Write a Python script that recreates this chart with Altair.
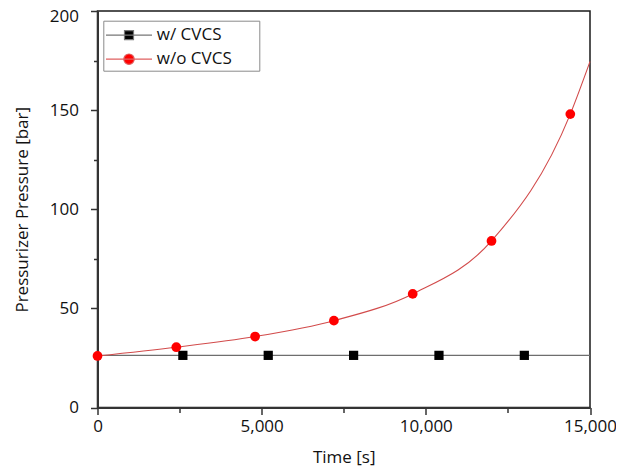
import altair as alt
import pandas as pd

# --- data ---
series_names = ["w/ CVCS", "w/o CVCS"]

# red (w/o CVCS) curve: marker readings plus the end of the drawn line at 15,000 s
red_curve_t = [0, 2400, 4800, 7200, 9600, 12000, 14400, 15000]
red_curve_p = [26.0, 30.4, 35.8, 43.8, 57.3, 84.0, 148.0, 174.5]

# red markers
red_mark_t = [0, 2400, 4800, 7200, 9600, 12000, 14400]
red_mark_p = [26.0, 30.4, 35.8, 43.8, 57.3, 84.0, 148.0]

# black (w/ CVCS) line and markers
black_line_t = [0, 15000]
black_line_p = [26.3, 26.3]
black_mark_t = [2600, 5200, 7800, 10400, 13000]
black_mark_p = [26.3, 26.3, 26.3, 26.3, 26.3]

x_ticks = [0, 2500, 5000, 7500, 10000, 12500, 15000]
y_ticks = [0, 25, 50, 75, 100, 125, 150, 175, 200]

FONT = "Open Sans"
TEXT_COLOR = "#111111"

red_line_df = pd.DataFrame({"t": red_curve_t, "p": red_curve_p})
black_line_df = pd.DataFrame({"t": black_line_t, "p": black_line_p})
red_mark_df = pd.DataFrame({"t": red_mark_t, "p": red_mark_p})
black_mark_df = pd.DataFrame({"t": black_mark_t, "p": black_mark_p})
legend_df = pd.DataFrame({
    "t": black_mark_t + red_mark_t,
    "p": black_mark_p + red_mark_p,
    "series": [series_names[0]] * len(black_mark_t) + [series_names[1]] * len(red_mark_t),
})

x_enc = alt.X(
    "t:Q",
    scale=alt.Scale(domain=[0, 15000], nice=False, zero=False),
    axis=alt.Axis(
        title="Time [s]",
        values=x_ticks,
        labelExpr="datum.value % 5000 === 0 ? format(datum.value, ',') : ''",
        tickSize={"condition": {"test": "datum.value % 5000 === 0", "value": 7}, "value": 5},
        grid=False,
        labelPadding=4,
        titlePadding=15,
    ),
)
y_enc = alt.Y(
    "p:Q",
    scale=alt.Scale(domain=[0, 200], nice=False),
    axis=alt.Axis(
        title="Pressurizer Pressure [bar]",
        values=y_ticks,
        labelExpr="datum.value % 50 === 0 ? datum.label : ''",
        tickSize={"condition": {"test": "datum.value % 50 === 0", "value": 7}, "value": 4},
        labelBaseline={"condition": {"test": "datum.value === 200", "value": "top"}, "value": "middle"},
        labelOffset={"condition": {"test": "datum.value === 200", "value": -2.5}, "value": 0},
        grid=False,
        labelPadding=12,
        titlePadding=18,
    ),
)

black_line = alt.Chart(black_line_df).mark_line(color="#6e6e6e", strokeWidth=1.2).encode(x=x_enc, y=y_enc)
red_line = alt.Chart(red_line_df).mark_line(
    color="#d24b4b", strokeWidth=1.1, interpolate="monotone"
).encode(x=x_enc, y=y_enc)
black_pts = alt.Chart(black_mark_df).mark_point(
    shape="square", filled=True, color="#000000", size=85, opacity=1
).encode(x=x_enc, y=y_enc)
red_pts = alt.Chart(red_mark_df).mark_point(
    shape="circle", filled=True, color="#ff0000", size=95, opacity=1
).encode(x=x_enc, y=y_enc)

sq_path = "M-1.18,0H3.42M0.67,-0.45H1.57V0.45H0.67Z"
ci_path = "M-1.18,0H3.42M1.64,0A0.52,0.52,0,1,1,0.6,0A0.52,0.52,0,1,1,1.64,0Z"

legend_cfg = alt.Legend(
    title=".",
    titleOrient="right",
    titleColor="transparent",
    titleFontSize=17,
    titlePadding=19,
    orient="none",
    legendX=5.8,
    legendY=9.7,
    symbolSize=400,
    symbolStrokeWidth=1.2,
    symbolFillColor=alt.ExprRef(expr="datum.value === 'w/ CVCS' ? '#000000' : '#ff0000'"),
    labelOffset=28,
    labelFont=FONT,
    labelFontSize=17,
    labelColor=TEXT_COLOR,
    rowPadding=5,
    padding=3.5,
    fillColor="#ffffff",
    strokeColor="#8a8a8a",
)

legend_layer = alt.Chart(legend_df).mark_point(filled=True, opacity=0, size=400).encode(
    x=x_enc,
    y=y_enc,
    shape=alt.Shape(
        "series:N",
        scale=alt.Scale(domain=series_names, range=[sq_path, ci_path]),
        legend=legend_cfg,
    ),
    fill=alt.Fill("series:N", scale=alt.Scale(domain=series_names, range=["#000000", "#ff0000"]), legend=None),
    stroke=alt.Stroke("series:N", scale=alt.Scale(domain=series_names, range=["#777777", "#e06060"]), legend=None),
)

chart = alt.layer(black_line, red_line, black_pts, red_pts, legend_layer).properties(
    width=492.5,
    height=396.5,
    autosize=alt.AutoSizeParams(type="none"),
    padding={"left": 89.5, "top": 3, "right": 26, "bottom": 62},
).configure_view(
    stroke="#1a1a1a", strokeWidth=1.5
).configure_axis(
    labelFont=FONT,
    titleFont=FONT,
    labelFontSize=17,
    titleFontSize=17,
    titleFontWeight="normal",
    labelColor=TEXT_COLOR,
    titleColor=TEXT_COLOR,
    domainColor="#333333",
    domainWidth=2,
    tickColor="#333333",
    tickWidth=1.5,
    labelFlush=False,
    labelOverlap=False,
)

chart.save("out.html", embed_options={"renderer": "svg", "actions": False})
